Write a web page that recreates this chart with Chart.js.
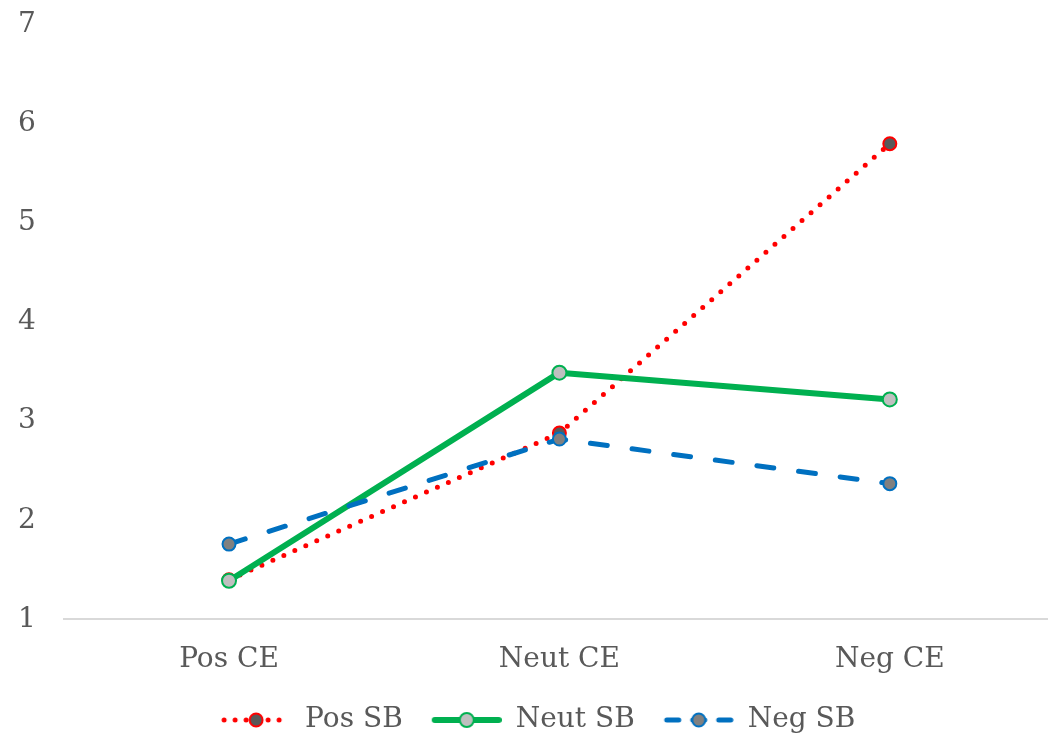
<!DOCTYPE html>
<html>
<head>
<meta charset="utf-8">
<script src="https://cdn.jsdelivr.net/npm/chart.js@4.4.1/dist/chart.umd.min.js"></script>
<style>
  html,body{margin:0;padding:0;background:#fff;overflow:hidden;}
  #wrap{width:1064px;height:764px;margin-top:-20px;}
</style>
</head>
<body>
<div id="wrap"><canvas id="c"></canvas></div>
<script>
const categories = ['Pos CE','Neut CE','Neg CE'];
const seriesNames = ['Pos SB','Neut SB','Neg SB'];
const posSB  = [1.40, 2.88, 5.80];
const neutSB = [1.39, 3.49, 3.22];
const negSB  = [1.76, 2.82, 2.37];
const yTicks = [1,2,3,4,5,6,7];

const FONT = '"DejaVu Serif", "Liberation Serif", serif';
const TXT = '#595959';

// line styles per series (legend samples reuse these)
const styles = [
  {line:'#FF0000', width:5, dash:[0,12], fill:'#595959', border:'#FF0000', r:6.5},
  {line:'#00B050', width:6, dash:[],     fill:'#BFBFBF', border:'#00B050', r:7},
  {line:'#0070C0', width:5, dash:[17,25],fill:'#808080', border:'#0070C0', r:6.5}
];

// legend sample: blank lead-in (item gap), then a line with marker
function legendSample(s){
  const cv = document.createElement('canvas');
  cv.width = 94; cv.height = 18;
  const g = cv.getContext('2d');
  g.strokeStyle = s.line; g.lineWidth = s.width; g.lineCap = 'round';
  g.setLineDash(s.dash.length ? (s.dash[0]===0 ? [0,11] : [12,14]) : []);
  g.beginPath(); g.moveTo(27,9); g.lineTo(91,9); g.stroke();
  g.setLineDash([]);
  g.beginPath(); g.arc(59,9,s.r,0,Math.PI*2);
  g.fillStyle = s.fill; g.fill();
  g.lineWidth = 2; g.strokeStyle = s.border; g.stroke();
  return cv;
}
const samples = styles.map(legendSample);

function ds(label, data, s, order){
  return {
    label, data, order,
    borderColor:s.line, borderWidth:s.width, borderDash:s.dash, borderCapStyle:'round',
    borderJoinStyle:'round', tension:0, fill:false,
    pointRadius:s.r, pointBackgroundColor:s.fill, pointBorderColor:s.border, pointBorderWidth:2,
    pointHoverRadius:s.r
  };
}

new Chart(document.getElementById('c'), {
  type:'line',
  data:{
    labels:categories,
    datasets:[
      ds(seriesNames[0], posSB, styles[0], 3),
      ds(seriesNames[1], neutSB, styles[1], 2),
      ds(seriesNames[2], negSB, styles[2], 1)
    ]
  },
  options:{
    responsive:true, maintainAspectRatio:false, animation:false,
    layout:{padding:{top:-10, right:1.5, left:-10, bottom:0}},
    plugins:{
      tooltip:{enabled:false},
      legend:{
        position:'bottom',
        labels:{
          usePointStyle:true, pointStyleWidth:94, padding:5,
          color:TXT, font:{family:FONT, size:28},
          generateLabels:(chart)=>chart.data.datasets.map((d,i)=>({
            text:d.label, pointStyle:samples[i], fontColor:TXT,
            strokeStyle:'transparent', fillStyle:'transparent', lineWidth:0, datasetIndex:i, hidden:false
          }))
        }
      }
    },
    scales:{
      x:{
        offset:true,
        grid:{display:false, drawTicks:false},
        border:{display:true, color:'#D9D9D9', width:2},
        ticks:{color:TXT, font:{family:FONT, size:28}, padding:24}
      },
      y:{
        min:1, max:7,
        afterBuildTicks:(axis)=>{ axis.ticks = yTicks.map(v=>({value:v})); },
        grid:{display:false, drawTicks:false},
        border:{display:false},
        ticks:{color:TXT, font:{family:FONT, size:28}, padding:28}
      }
    }
  }
});
</script>
</body>
</html>
